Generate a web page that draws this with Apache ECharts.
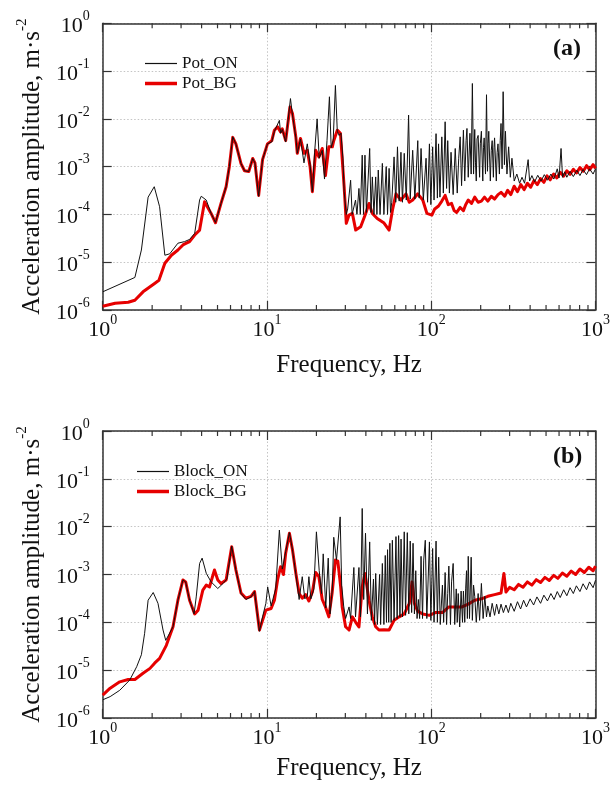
<!DOCTYPE html>
<html><head><meta charset="utf-8">
<script src="https://cdn.jsdelivr.net/npm/echarts@6/dist/echarts.min.js"></script>
<style>html,body{margin:0;padding:0;background:#fff}#c{width:613px;height:787px}</style>
</head><body><div id="c"></div>
<script>
// ---- data: [frequency Hz, acceleration amplitude m/s^2] ----
const potOn = [[1.0,2.4e-6],[1.57,4.8e-6],[1.72,1.8e-5],[1.89,2.3e-4],[2.06,3.8e-4],[2.22,1.45e-4],[2.39,1.4e-5],[2.56,1.5e-5],[2.87,2.5e-5],[3.15,2.7e-5],[3.38,3.0e-5],[3.63,4.0e-5],[3.89,2.0e-4],[3.98,2.4e-4],[4.27,2.0e-4],[4.57,1.05e-4],[4.86,6.8e-5],[5.25,1.7e-4],[5.64,3.8e-4],[5.9,1e-3],[6.19,4.2e-3],[6.47,3.0e-3],[6.95,1.16e-3],[7.3,8.2e-4],[7.75,7.9e-4],[8.19,1.48e-3],[8.45,1.2e-3],[8.9,2.4e-4],[9.4,1.4e-3],[10.07,3e-3],[10.7,3.3e-3],[11.1,5.5e-3],[11.9,9.3e-3],[12.1,5.0e-3],[12.4,6.0e-3],[13.0,3.3e-3],[13.9,2.66e-2],[14.3,1.2e-2],[15.0,4.0e-3],[15.3,1.9e-3],[16.0,3.8e-3],[16.8,1.2e-3],[17.6,3.0e-3],[18.3,1.1e-3],[18.9,3.0e-4],[19.5,2.0e-3],[20.2,1.0e-2],[20.8,1.5e-3],[21.7,2.2e-3],[22.4,5.5e-4],[23.2,3.5e-3],[24.0,2.9e-2],[24.6,2.5e-3],[25.3,3.5e-3],[26.1,5.0e-2],[26.8,5.5e-3],[27.5,4.5e-3],[28.2,5e-3],[29.0,1.5e-3],[29.5,3e-4],[30.4,1.0e-4],[31.0,1.3e-4],[32.3,5.2e-4],[33.0,1.0e-4],[33.8,1.1e-4],[34.6,2e-4],[35.3,1.0e-4],[36.3,3.5e-4],[37.0,1.0e-4],[38.0,1.74e-3],[38.7,1.0e-4],[39.5,1.74e-3],[40.3,1.1e-4],[41.2,1.2e-4],[42.2,2.4e-3],[43.0,1.1e-4],[43.8,6.1e-4],[44.8,1.0e-4],[45.9,6.1e-4],[46.7,1.0e-4],[47.6,8.5e-4],[48.8,1.0e-4],[50.4,1.17e-3],[51.5,1.0e-4],[53.2,1e-3],[54.2,1.0e-4],[55.4,9.2e-4],[56.5,1.1e-4],[57.5,1.8e-4],[59.4,1.6e-3],[60.8,1.8e-4],[62.3,2.6e-3],[63.8,1.9e-4],[65.4,2.0e-3],[66.8,1.8e-4],[68.5,1.9e-3],[70.5,2.0e-4],[72.8,1.2e-2],[74.5,2.1e-4],[77.1,2.2e-3],[79.5,2.1e-4],[82.8,3.5e-3],[84.5,2.2e-4],[86.7,2.4e-3],[89.5,2.0e-4],[93,1.5e-3],[95,1.8e-4],[97.5,3.0e-3],[99.5,1.6e-4],[102,2.6e-3],[104,2.0e-4],[107,4.9e-3],[109,2.2e-4],[110.8,3e-3],[113,2.3e-4],[116,4.2e-3],[118.5,2.8e-4],[121.5,8.7e-3],[124,3.5e-4],[126,3.5e-3],[129,2.8e-4],[132,2e-3],[136,2.6e-4],[140,2.4e-3],[144,2.8e-4],[147,1.5e-3],[150,4.2e-3],[153,4e-4],[157,5.8e-3],[160,5e-4],[163,3.5e-3],[165,6.3e-3],[168,6e-4],[172,5e-3],[175,7e-4],[178,5.5e-2],[181,7e-4],[184,6e-3],[186,1.2e-3],[188,5e-4],[190,3.8e-3],[193,4.5e-3],[197,6e-4],[199,3e-3],[202,5.5e-3],[206,5e-4],[208,2.5e-3],[210,4e-3],[214,7e-4],[217,3.2e-2],[220,8e-4],[222,3e-3],[224,5.5e-3],[229,5e-4],[232,2.2e-3],[235,3.5e-3],[239,6e-4],[241,2.5e-3],[243,4e-3],[249,5e-4],[252,2e-3],[255,3e-3],[260,7e-4],[263,3.5e-3],[266,8e-3],[270,9e-4],[274,3.7e-2],[279,1.1e-3],[283,5.5e-3],[289,7e-4],[296,2.6e-3],[303,6e-4],[310,1.5e-3],[320,5e-4],[332,7e-4],[345,4.5e-4],[357,6e-4],[370,4.5e-4],[389,1.4e-3],[397,5e-4],[410,6.5e-4],[426,4.8e-4],[445,6.6e-4],[466,5e-4],[488,6.8e-4],[510,5.2e-4],[535,7e-4],[558,5.5e-4],[585,9e-4],[600,5.8e-4],[617,2.4e-3],[630,6e-4],[650,7.8e-4],[669,6e-4],[700,8e-4],[733,6.2e-4],[770,8.4e-4],[804,6.5e-4],[840,8.7e-4],[882,6.8e-4],[920,9e-4],[967,7e-4],[1000,9e-4]];

const potBg = [[1.0,1.2e-6],[1.19,1.38e-6],[1.43,1.45e-6],[1.57,1.6e-6],[1.76,2.4e-6],[2.07,3.6e-6],[2.2,4.2e-6],[2.39,9.5e-6],[2.62,1.4e-5],[2.87,1.8e-5],[3.08,2.3e-5],[3.23,2.5e-5],[3.38,2.7e-5],[3.63,3.7e-5],[3.89,4.7e-5],[4.17,1.84e-4],[4.57,1.05e-4],[4.86,6.7e-5],[5.25,1.7e-4],[5.64,3.8e-4],[5.9,1e-3],[6.19,4.1e-3],[6.47,3.0e-3],[6.95,1.16e-3],[7.3,8.2e-4],[7.75,7.9e-4],[8.19,1.48e-3],[8.45,1.2e-3],[8.9,2.5e-4],[9.4,1.4e-3],[10.07,3e-3],[10.7,3.5e-3],[11.1,5.8e-3],[11.6,6.8e-3],[12.1,5.3e-3],[12.4,6.2e-3],[13.0,3.5e-3],[13.8,1.78e-2],[14.3,1.3e-2],[15.0,4.1e-3],[15.3,1.9e-3],[16.0,3.9e-3],[16.8,1.9e-3],[17.6,2.2e-3],[18.3,1e-3],[18.9,3.0e-4],[19.8,2.2e-3],[20.7,1.6e-3],[21.7,2.4e-3],[22.7,6.5e-4],[23.8,2.6e-3],[25.0,2.6e-3],[25.5,3.5e-3],[26.8,5.8e-3],[28.0,5e-3],[29.5,3.8e-4],[30.4,6.5e-5],[31.6,9.7e-5],[33.1,1.05e-4],[34.7,4.7e-5],[37.2,5.5e-5],[39.9,1.05e-4],[41.8,1.7e-4],[43.8,1.05e-4],[46.9,8.2e-5],[51.6,6.6e-5],[55.4,4.7e-5],[58.1,1.24e-4],[61,2.7e-4],[65.4,2e-4],[70.2,2.7e-4],[73.5,1.8e-4],[77.1,2e-4],[82.8,2.7e-4],[88.8,2e-4],[94.1,1.05e-4],[100.9,9.7e-5],[105,1.3e-4],[110.8,1.5e-4],[116,1.9e-4],[121.5,2.5e-4],[127,1.6e-4],[133,1.7e-4],[138,1.2e-4],[142.9,1.1e-4],[150,1.4e-4],[157,1.2e-4],[162,1.6e-4],[168,2e-4],[176,1.7e-4],[184,2.3e-4],[193,1.8e-4],[202,1.9e-4],[211,2.3e-4],[221,1.9e-4],[232,2.4e-4],[243,2.1e-4],[255,2.6e-4],[266,2.9e-4],[280,2.4e-4],[292,3.2e-4],[305,2.6e-4],[320,3.9e-4],[335,3.0e-4],[351,4.2e-4],[368,3.3e-4],[385,4.5e-4],[403,3.7e-4],[422,5.1e-4],[442,4.2e-4],[463,5.6e-4],[485,4.7e-4],[507,6.4e-4],[530,5.3e-4],[556,7e-4],[582,5.8e-4],[610,7.6e-4],[640,6.3e-4],[669,8.2e-4],[700,6.9e-4],[733,8.8e-4],[767,7.4e-4],[804,9.6e-4],[842,8e-4],[882,1.05e-3],[923,8.6e-4],[967,1.1e-3],[1000,9.2e-4]];

const blockOn = [[1.0,2.4e-6],[1.11,2.8e-6],[1.27,3.8e-6],[1.46,6.2e-6],[1.61,1.18e-5],[1.72,2.1e-5],[1.80,5.9e-5],[1.89,2.9e-4],[2.03,4.2e-4],[2.17,2.5e-4],[2.33,6.9e-5],[2.42,4.2e-5],[2.56,6e-5],[2.68,8.1e-5],[2.87,2.9e-4],[3.08,7.7e-4],[3.2,7e-4],[3.38,2.9e-4],[3.6,1.5e-4],[3.71,3.4e-4],[3.89,1.7e-3],[4.03,2.2e-3],[4.27,1.06e-3],[4.57,7e-4],[5.02,5.1e-4],[5.4,6.5e-4],[5.7,8e-4],[6.1,3.9e-3],[6.47,1.24e-3],[6.95,4e-4],[7.45,3.0e-4],[8.0,3.4e-4],[8.4,4.4e-4],[9.0,6.5e-5],[9.4,1.3e-4],[9.85,2.5e-4],[10.1,5.5e-4],[10.6,2.2e-4],[11.3,5e-4],[11.9,8.5e-3],[12.4,1.3e-3],[13.0,3e-3],[13.7,7.5e-3],[14.3,3.3e-3],[15.0,1.0e-3],[15.7,3e-4],[16.4,9e-4],[17.0,3.1e-4],[17.6,3.5e-4],[18.0,9e-4],[18.5,3.1e-4],[19.3,5e-4],[20.0,7.8e-3],[20.8,1.2e-3],[21.5,4e-4],[22.0,2.7e-3],[22.8,2e-4],[23.6,2.2e-3],[24.2,1.5e-4],[25.0,5e-4],[25.5,6e-3],[26.5,2e-3],[27.9,1.6e-2],[28.5,6e-4],[29.3,2.2e-4],[30.1,1.2e-4],[30.8,1.3e-4],[31.6,2.1e-4],[32.3,1.2e-4],[33.1,1.3e-4],[33.8,1.4e-3],[34.6,1.3e-4],[35.4,1.2e-4],[36.3,1.4e-3],[37.1,1.3e-4],[38.0,2.4e-2],[38.8,3e-4],[39.8,7.3e-3],[40.9,1.5e-4],[42.2,4.8e-3],[43.2,1.1e-4],[44.5,8e-4],[45.2,9e-5],[45.9,1.05e-3],[47,9e-5],[48.5,1.0e-3],[49.2,9e-5],[50.4,1.7e-3],[51.5,9e-5],[52.5,2.5e-3],[53.4,1e-4],[54.2,3.3e-3],[55.1,1e-4],[56,4.5e-3],[57,1e-4],[58,5.2e-3],[59.4,1.1e-4],[61,6.2e-3],[62,1.2e-4],[63.3,6.5e-3],[64.5,1.3e-4],[65.5,5.5e-3],[66.8,1.3e-4],[68.5,7.8e-3],[69.8,1.4e-4],[71.5,7.5e-3],[73,1.5e-4],[74.5,5e-3],[76,1.6e-4],[77.5,4.5e-3],[79,1.5e-4],[80.5,1.2e-3],[82,1.2e-4],[83.5,3e-4],[85,1.2e-4],[86.7,2.4e-3],[88.5,1.2e-4],[90,2e-3],[92,5.2e-3],[94,1.2e-4],[97.5,4.8e-3],[99.5,1.1e-4],[102,3.5e-3],[104,1.0e-4],[107,5e-3],[109,1.0e-4],[111,2.3e-3],[113.5,9e-5],[117,6e-4],[119,1e-4],[121.5,1.1e-3],[124,9e-5],[126,4e-4],[128,1.5e-3],[131,9e-5],[133,7e-4],[136,1.7e-3],[139,9e-5],[142,5e-4],[144,1e-4],[146,4e-4],[149,8e-5],[152,4.5e-4],[155,1e-4],[157,4.5e-4],[160,1e-4],[162,5e-4],[164,1.2e-3],[166,1.2e-4],[168,2.4e-3],[171,1.2e-4],[175,2.3e-3],[178,1.1e-4],[181,6e-4],[184,3.5e-4],[188,1.0e-4],[193,4e-4],[197,1.1e-4],[202,6.5e-4],[207,1.2e-4],[212,3.5e-4],[217,1.3e-4],[221,2.2e-4],[228,1.3e-4],[235,2.5e-4],[243,1.4e-4],[250,2.4e-4],[258,1.5e-4],[266,2.4e-4],[275,1.6e-4],[285,2.3e-4],[295,1.6e-4],[305,2.5e-4],[320,1.7e-4],[335,2.7e-4],[350,1.9e-4],[365,2.9e-4],[380,2.1e-4],[400,3.1e-4],[420,2.3e-4],[440,3.4e-4],[463,2.5e-4],[485,3.7e-4],[510,2.8e-4],[535,4.0e-4],[560,3.0e-4],[585,4.4e-4],[610,3.3e-4],[640,4.8e-4],[669,3.6e-4],[700,5.3e-4],[733,4.0e-4],[765,5.8e-4],[804,4.4e-4],[840,6.4e-4],[882,4.8e-4],[920,7.0e-4],[967,5.3e-4],[1000,7.6e-4]];

const blockBg = [[1.0,3.0e-6],[1.11,4.2e-6],[1.27,5.7e-6],[1.43,6.4e-6],[1.57,6.4e-6],[1.76,8.6e-6],[1.94,1.09e-5],[2.07,1.4e-5],[2.22,1.76e-5],[2.44,3.3e-5],[2.68,8.1e-5],[2.87,2.9e-4],[3.08,7.7e-4],[3.2,7e-4],[3.38,2.9e-4],[3.63,1.5e-4],[3.81,1.8e-4],[4.07,4.7e-4],[4.27,6e-4],[4.47,5.5e-4],[4.79,1.24e-3],[5.02,7.7e-4],[5.25,6.5e-4],[5.64,7.7e-4],[6.1,3.8e-3],[6.47,1.24e-3],[6.95,4.1e-4],[7.45,3.2e-4],[8.0,3.5e-4],[8.4,4.4e-4],[9.0,6.9e-5],[9.4,1.1e-4],[9.85,1.8e-4],[10.6,1.95e-4],[11.1,2.9e-4],[11.6,7.7e-4],[12.1,1.45e-3],[12.6,1.0e-3],[13.0,2.8e-3],[13.7,7.3e-3],[14.3,3.3e-3],[15.0,1.05e-3],[15.7,4e-4],[16.4,3.2e-4],[17.2,3.8e-4],[18.0,2.8e-4],[18.9,4.3e-4],[19.8,1.1e-3],[20.7,9e-4],[21.7,3e-4],[22.7,2.1e-4],[23.8,1.3e-4],[24.9,4e-4],[26.1,2.0e-3],[27.0,1.9e-3],[28.1,5.5e-4],[28.7,2.1e-4],[30.1,8.1e-5],[31.6,6.9e-5],[33.1,1.3e-4],[34.7,1.0e-4],[36.3,8e-5],[38.0,5.5e-4],[39.5,1.05e-3],[41.8,2.9e-4],[43.8,1.3e-4],[45.9,8.1e-5],[48.1,6.9e-5],[51.6,7e-5],[55.4,6.9e-5],[59.4,1.1e-4],[63.8,1.3e-4],[68.5,1.5e-4],[73.5,2.5e-4],[76.4,7e-4],[79,2.5e-4],[82.8,1.7e-4],[88.8,1.5e-4],[97.5,1.4e-4],[106,1.6e-4],[117,1.6e-4],[128,2.1e-4],[140,2.1e-4],[154,2.1e-4],[168,2.4e-4],[184,2.9e-4],[202,3.1e-4],[221,3.5e-4],[243,3.8e-4],[266,4.1e-4],[277,1.05e-3],[285,4.3e-4],[300,5.4e-4],[320,4.8e-4],[340,6.2e-4],[362,5.4e-4],[385,7.0e-4],[410,6.0e-4],[436,7.8e-4],[463,6.8e-4],[492,8.7e-4],[523,7.5e-4],[556,9.6e-4],[590,8.3e-4],[628,1.07e-3],[669,9.2e-4],[712,1.18e-3],[757,1.0e-3],[804,1.3e-3],[855,1.1e-3],[910,1.42e-3],[967,1.2e-3],[1000,1.5e-3]];

const minorTickFreqs = [2,3,4,5,6,7,8,9,20,30,40,50,60,70,80,90,200,300,400,500,600,700,800,900];
const panelLabels = ['(a)','(b)'];

const FONT = '"Liberation Serif", "Times New Roman", serif';
const AX = '#333';
const chart = echarts.init(document.getElementById('c'), null, {renderer:'canvas'});

const rich = {
  b:{fontFamily:FONT, fontSize:22, color:'#111', lineHeight:28, verticalAlign:'bottom'},
  s:{fontFamily:FONT, fontSize:14, color:'#111', lineHeight:14, verticalAlign:'top'}
};
function sup(v){ const e = Math.round(Math.log10(v)); return '{b|10}{s|' + e + '}'; }

const grids = [
  {left:102.7, top:23.3, width:495, height:286.7},
  {left:102.7, top:431, width:495, height:287}
];
const xNameGaps = [43, 38];
const xAxis = [], yAxis = [];
grids.forEach((g, gi) => {
  xAxis.push({type:'log', gridIndex:gi, min:1, max:1000, splitNumber:3, position:'bottom',
    axisLine:{show:true, onZero:false, lineStyle:{color:AX, width:1.5}},
    axisTick:{show:true, inside:true, length:9, lineStyle:{color:AX, width:1.2}},
    axisLabel:{show:true, margin:3, formatter:sup, rich:rich, showMinLabel:true, showMaxLabel:true},
    splitLine:{show:true, lineStyle:{color:'#c4c4c4', type:[1.5,2], width:1}},
    name:'Frequency, Hz', nameLocation:'middle', nameGap:xNameGaps[gi],
    nameTextStyle:{fontFamily:FONT, fontSize:25, color:'#111'}});
  xAxis.push({type:'log', gridIndex:gi, min:1, max:1000, splitNumber:3, position:'top',
    axisLine:{show:true, onZero:false, lineStyle:{color:AX, width:1.5}},
    axisTick:{show:true, inside:true, length:9, lineStyle:{color:AX, width:1.2}},
    axisLabel:{show:false}, splitLine:{show:false}});
  yAxis.push({type:'log', gridIndex:gi, min:1e-6, max:1, splitNumber:6, position:'left',
    axisLine:{show:true, onZero:false, lineStyle:{color:AX, width:1.5}},
    axisTick:{show:true, inside:true, length:9, lineStyle:{color:AX, width:1.2}},
    axisLabel:{show:true, margin:13, formatter:sup, rich:rich},
    splitLine:{show:true, lineStyle:{color:'#c4c4c4', type:[1.5,2], width:1}},
    name:'{t|Acceleration amplitude, m·s}{s|-2}', nameLocation:'middle', nameGap:58,
    nameTextStyle:{fontFamily:FONT, fontSize:25, color:'#111', rich:{
      t:{fontFamily:FONT, fontSize:25, color:'#111', lineHeight:30, verticalAlign:'bottom'},
      s:{fontFamily:FONT, fontSize:15, color:'#111', lineHeight:15, verticalAlign:'top'}}}});
  yAxis.push({type:'log', gridIndex:gi, min:1e-6, max:1, splitNumber:6, position:'right',
    axisLine:{show:true, onZero:false, lineStyle:{color:AX, width:1.5}},
    axisTick:{show:true, inside:true, length:9, lineStyle:{color:AX, width:1.2}},
    axisLabel:{show:false}, splitLine:{show:false}});
});

function minorTicks(gi){
  return {type:'custom', xAxisIndex:gi*2, yAxisIndex:gi*2, silent:true, clip:false, z:5,
    data: minorTickFreqs.map(f => [f, 1e-6]),
    renderItem:(params, api) => {
      const f = api.value(0);
      const b = api.coord([f, 1e-6]); const t = api.coord([f, 1]);
      return {type:'group', children:[
        {type:'line', shape:{x1:b[0], y1:b[1], x2:b[0], y2:b[1]-5}, style:{stroke:AX, lineWidth:1.2}},
        {type:'line', shape:{x1:t[0], y1:t[1], x2:t[0], y2:t[1]+5}, style:{stroke:AX, lineWidth:1.2}}
      ]};
    }};
}
const RED = '#e60000', BLK = '#111';
function lineS(name, data, gi, color, width, z){
  return {name, type:'line', data, xAxisIndex:gi*2, yAxisIndex:gi*2, symbol:'none', showSymbol:false,
    color, lineStyle:{color, width, join:'round'}, z, animation:false};
}
function leg(name, left, top, h){
  return {data:[{name, icon:'rect'}], left, top, itemWidth:32, itemHeight:h, orient:'vertical',
    selectedMode:false, textStyle:{fontFamily:FONT, fontSize:17, color:'#111'}};
}

chart.setOption({
  animation:false,
  backgroundColor:'#fff',
  grid:grids, xAxis, yAxis,
  legend:[
    leg('Pot_ON', 140, 50, 1.2), leg('Pot_BG', 140, 70, 3.5),
    leg('Block_ON', 132, 458, 1.2), leg('Block_BG', 132, 478, 3.5)
  ],
  graphic:[
    {type:'text', left:553, top:37, style:{text:panelLabels[0], font:'bold 24px "Liberation Serif"', fill:'#111'}},
    {type:'text', left:553, top:445, style:{text:panelLabels[1], font:'bold 24px "Liberation Serif"', fill:'#111'}}
  ],
  series:[
    lineS('Pot_BG', potBg, 0, RED, 3, 2),
    lineS('Pot_ON', potOn, 0, BLK, 1, 3),
    lineS('Block_BG', blockBg, 1, RED, 3, 2),
    lineS('Block_ON', blockOn, 1, BLK, 1, 3),
    minorTicks(0), minorTicks(1)
  ]
});
</script></body></html>
